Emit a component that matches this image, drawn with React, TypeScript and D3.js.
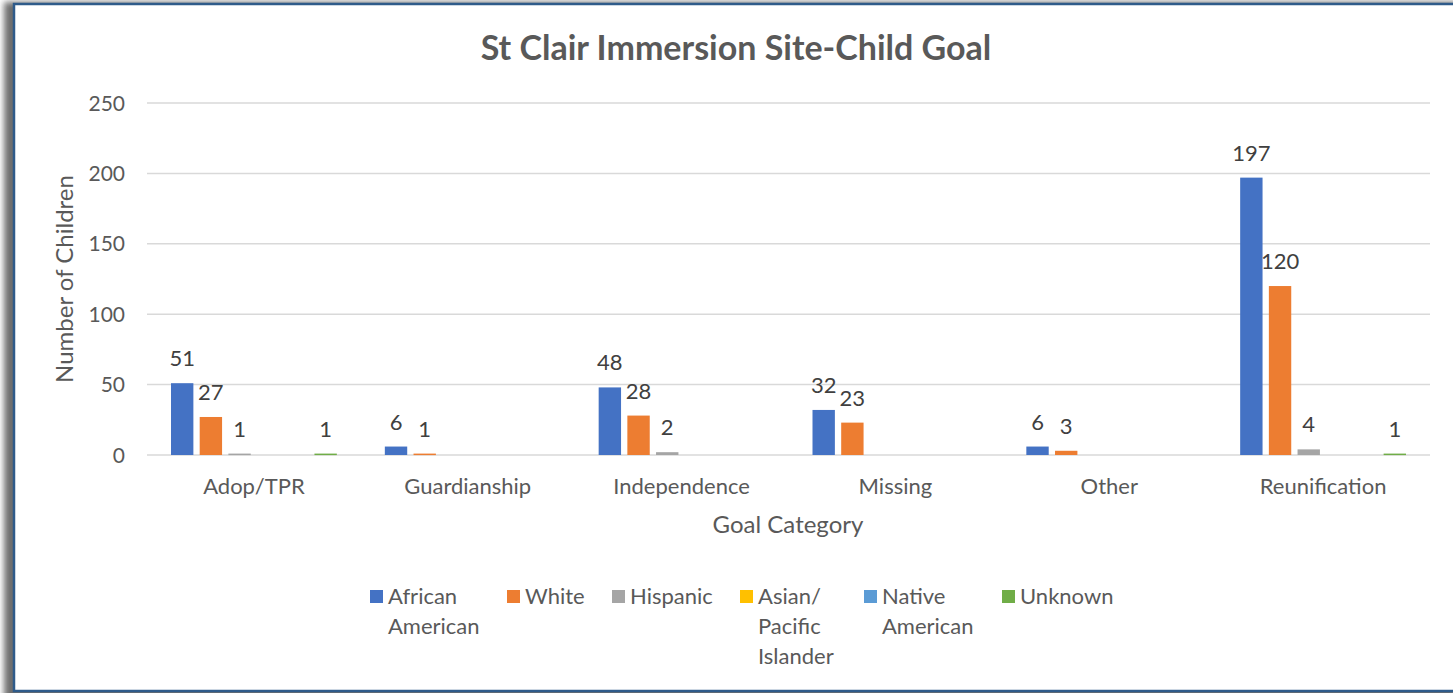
import React, { useEffect, useRef } from "react";
import * as d3 from "d3";

const categories = ["Adop/TPR", "Guardianship", "Independence", "Missing", "Other", "Reunification"];
const seriesNames = ["African American", "White", "Hispanic", "Asian/Pacific Islander", "Native American", "Unknown"];
const legendLines = [["African", "American"], ["White"], ["Hispanic"], ["Asian/", "Pacific", "Islander"], ["Native", "American"], ["Unknown"]];
const africanAmerican = [51, 6, 48, 32, 6, 197];
const white = [27, 1, 28, 23, 3, 120];
const hispanic = [1, 0, 2, 0, 0, 4];
const asianPacific = [0, 0, 0, 0, 0, 0];
const nativeAmerican = [0, 0, 0, 0, 0, 0];
const unknown = [1, 0, 0, 0, 0, 1];
const yTicks = [0, 50, 100, 150, 200, 250];
const colors = ["#4472C4", "#ED7D31", "#A5A5A5", "#FFC000", "#5B9BD5", "#70AD47"];

const App = () => {
	const ref = useRef<SVGSVGElement>(null);

	useEffect(() => {
		const width = 1453;
		const plot = { left: 147, right: 1430, top: 103, bottom: 455 };
		const font = "Lato, 'Open Sans', sans-serif";
		const values = [africanAmerican, white, hispanic, asianPacific, nativeAmerican, unknown];

		const svg = d3.select(ref.current);
		svg.selectAll("*").remove();

		// frame with shadow
		const defs = svg.append("defs");
		const f = defs.append("filter").attr("id", "shadow").attr("x", "-5%").attr("y", "-5%").attr("width", "110%").attr("height", "110%");
		f.append("feGaussianBlur").attr("stdDeviation", 3);
		svg.append("rect").attr("x", 4).attr("y", 2).attr("width", width).attr("height", 700).attr("fill", "#6e6e6e").attr("filter", "url(#shadow)");
		svg.append("rect").attr("x", 14).attr("y", 4).attr("width", width).attr("height", 687).attr("fill", "#fff").attr("stroke", "#2F5B8A").attr("stroke-width", 2.5);

		const x0 = d3.scaleBand().domain(categories).range([plot.left, plot.right]).padding(0);
		const x1 = d3.scaleBand().domain(seriesNames).range([24, x0.bandwidth() - 24]).paddingInner(0.22);
		const y = d3.scaleLinear().domain([0, 250]).range([plot.bottom, plot.top]);

		// title
		svg.append("text").attr("x", 736).attr("y", 60).attr("text-anchor", "middle").attr("font-family", font).attr("font-weight", "bold").attr("font-size", 34).attr("fill", "#595959").text("St Clair Immersion Site-Child Goal");

		// grid
		svg.append("g").selectAll("line").data(yTicks).join("line")
			.attr("x1", plot.left).attr("x2", plot.right)
			.attr("y1", (d) => y(d)).attr("y2", (d) => y(d))
			.attr("stroke", "#d9d9d9").attr("stroke-width", 1.5);

		svg.append("g").selectAll("text").data(yTicks).join("text")
			.attr("x", 125).attr("y", (d) => y(d) + 7.5).attr("text-anchor", "end")
			.attr("font-family", font).attr("font-size", 21).attr("fill", "#595959").text((d) => d);

		// bars
		const groups = svg.append("g").selectAll("g").data(categories).join("g")
			.attr("transform", (c) => `translate(${x0(c)},0)`);
		groups.each(function (c, ci) {
			const g = d3.select(this);
			seriesNames.forEach((s, si) => {
				const v = values[si][ci];
				if (v <= 0) return;
				g.append("rect").attr("x", x1(s)!).attr("width", x1.bandwidth())
					.attr("y", y(v)).attr("height", Math.max(y(0) - y(v), 1.5)).attr("fill", colors[si]);
				g.append("text").attr("x", x1(s)! + x1.bandwidth() / 2).attr("y", y(v) - 17)
					.attr("text-anchor", "middle").attr("font-family", font).attr("font-size", 22)
					.attr("fill", "#404040").text(v);
			});
		});

		// category labels
		svg.append("g").selectAll("text").data(categories).join("text")
			.attr("x", (c) => x0(c)! + x0.bandwidth() / 2).attr("y", 494).attr("text-anchor", "middle")
			.attr("font-family", font).attr("font-size", 22).attr("fill", "#595959").text((c) => c);

		// axis titles
		svg.append("text").attr("x", 788).attr("y", 533).attr("text-anchor", "middle").attr("font-family", font).attr("font-size", 24).attr("fill", "#595959").text("Goal Category");
		svg.append("text").attr("transform", "translate(73,279) rotate(-90)").attr("text-anchor", "middle").attr("font-family", font).attr("font-size", 24).attr("fill", "#595959").text("Number of Children");

		// legend
		const legendX = [370, 507, 612, 740, 864, 1002];
		const lg = svg.append("g").selectAll("g").data(seriesNames).join("g")
			.attr("transform", (_, i) => `translate(${legendX[i]},590)`);
		lg.append("rect").attr("width", 13).attr("height", 13).attr("fill", (_, i) => colors[i]);
		lg.each(function (_, i) {
			const t = d3.select(this).append("text").attr("font-family", font).attr("font-size", 22).attr("fill", "#595959");
			legendLines[i].forEach((line, li) => {
				t.append("tspan").attr("x", 18).attr("y", 14 + li * 30).text(line);
			});
		});
	}, []);

	return <svg ref={ref} width={1453} height={693} style={{ position: "absolute", left: 0, top: 0, background: "#fff" }} />;
};

export default App;
